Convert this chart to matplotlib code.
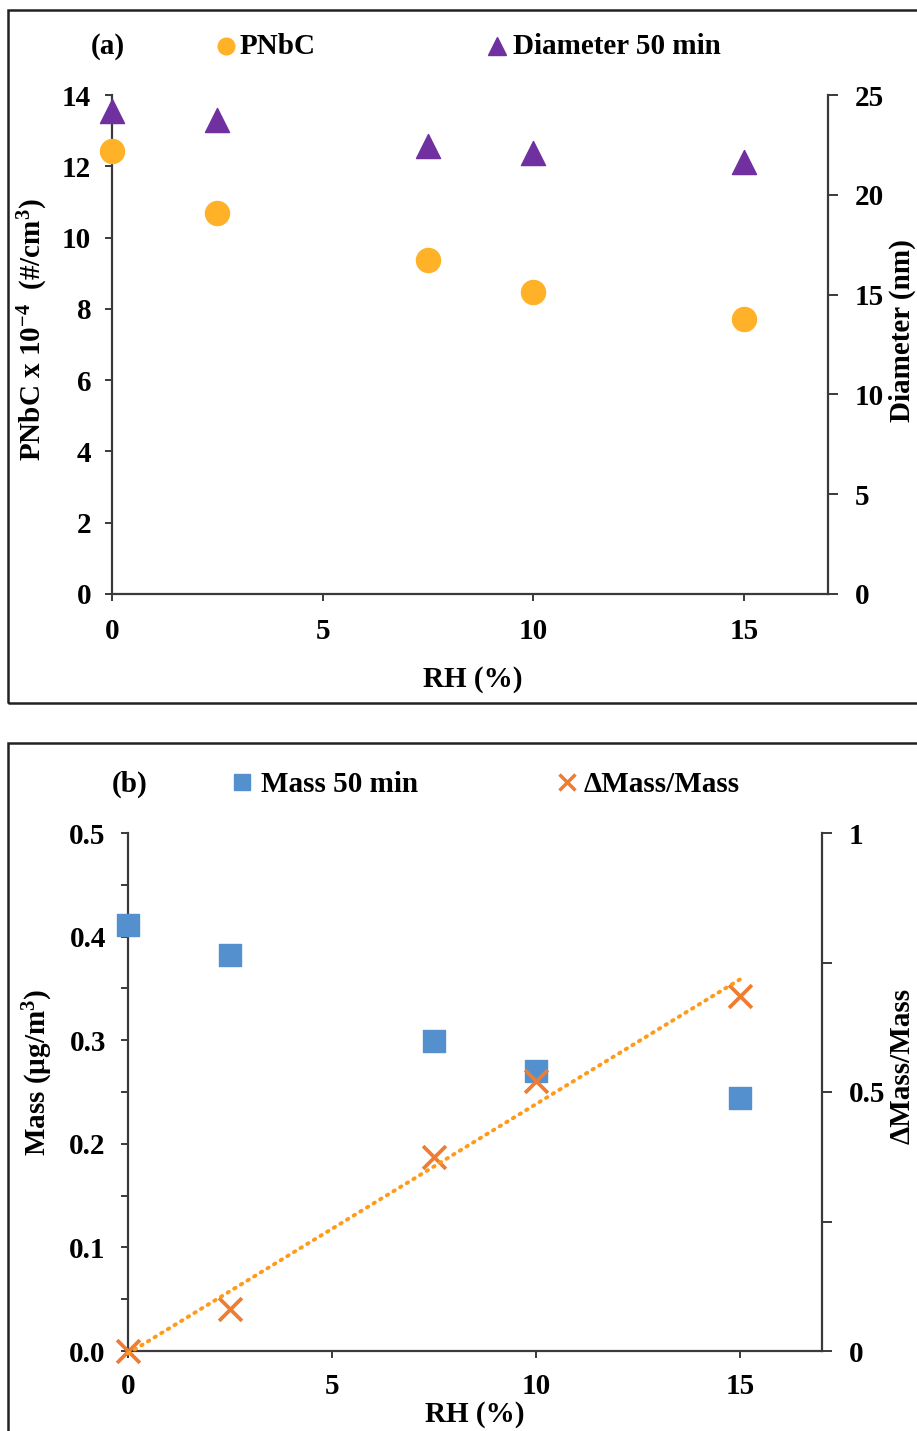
import numpy as np
import matplotlib
matplotlib.use("Agg")
import matplotlib.pyplot as plt
from matplotlib.patches import Rectangle
from matplotlib.lines import Line2D

# data
rh = [0, 2.5, 7.5, 10, 15]
pnbc = [12.43, 10.69, 9.37, 8.47, 7.72]          # x 10^-4 #/cm3
diameter = [24.2, 23.75, 22.45, 22.1, 21.64]     # nm
mass = [0.411, 0.382, 0.299, 0.270, 0.244]       # ug/m3
dmass = [0.0, 0.081, 0.375, 0.521, 0.685]        # dMass/Mass

C_PNBC = "#FFB127"
C_DIAM = "#7030A0"
C_MASS = "#5590CE"
C_DM = "#EE7D31"
C_TREND = "#FF9A1A"
SPINE = "#3a3a3a"

plt.rcParams["font.family"] = ["Liberation Serif", "DejaVu Serif"]
plt.rcParams["font.weight"] = "bold"
plt.rcParams["mathtext.fontset"] = "custom"
plt.rcParams["mathtext.rm"] = "Liberation Serif:bold"
plt.rcParams["mathtext.it"] = "Liberation Serif:bold"
plt.rcParams["mathtext.bf"] = "Liberation Serif:bold"

W, H = 917, 1431
FS = 21
fig = plt.figure(figsize=(W / 100, H / 100), dpi=100)


def fx(px):
    return px / W


def fy(py):
    return 1 - py / H


def style_axes(ax, ax2, ylen=5, rlen=7, pad_l=10, pad_r=12, pad_x=12):
    ax.spines["top"].set_visible(False)
    ax.spines["right"].set_visible(False)
    ax2.spines["top"].set_visible(False)
    ax2.spines["left"].set_visible(False)
    ax2.spines["bottom"].set_visible(False)
    for sp in ["left", "bottom"]:
        ax.spines[sp].set_color(SPINE)
        ax.spines[sp].set_linewidth(1.6)
    ax2.spines["right"].set_color(SPINE)
    ax2.spines["right"].set_linewidth(1.6)
    ax.tick_params(axis="y", which="both", direction="out", length=ylen, width=1.4,
                   color=SPINE, labelsize=FS, pad=pad_l)
    ax.tick_params(axis="x", direction="out", length=ylen, width=1.4,
                   color=SPINE, labelsize=FS, pad=pad_x)
    ax2.tick_params(axis="y", which="both", direction="out", length=rlen, width=1.4,
                    color=SPINE, labelsize=FS, pad=pad_r)
    ax.patch.set_visible(False)
    ax2.patch.set_visible(False)


# frames
fig.add_artist(Rectangle((fx(8), fy(703)), fx(940) - fx(8), fy(10) - fy(703),
                         transform=fig.transFigure, fill=False, lw=1.8, ec="#222222"))
fig.add_artist(Rectangle((fx(8), fy(1460)), fx(940) - fx(8), fy(743) - fy(1460),
                         transform=fig.transFigure, fill=False, lw=1.8, ec="#222222"))

# ---------------- panel (a)
ax = fig.add_axes([fx(112), fy(594), fx(828) - fx(112), fy(95) - fy(594)])
ax2 = ax.twinx()
ax.scatter(rh, pnbc, s=300, marker="o", color=C_PNBC, zorder=3, clip_on=False)
ax2.scatter(rh, diameter, s=300, marker="^", color=C_DIAM, zorder=3, clip_on=False)
ax.set_xlim(0, 17)
ax.set_ylim(0, 14)
ax2.set_ylim(0, 25)
ax.set_xticks([0, 5, 10, 15])
ax.set_yticks(np.arange(0, 15, 2))
ax2.set_yticks([0, 5, 10, 15, 20, 25])
style_axes(ax, ax2)

fig.text(fx(33), fy(330), "PNbC x 10$^{-4}$  (#/cm$^{3}$)", rotation=90,
         ha="center", va="center", fontsize=FS)
fig.text(fx(916), fy(331), "Diameter (nm)", rotation=90, ha="right", va="center", fontsize=FS)
fig.text(fx(473), fy(680), "RH (%)", ha="center", va="center", fontsize=FS)

fig.text(fx(108), fy(46), "(a)", ha="center", va="center", fontsize=FS)
fig.add_artist(Line2D([fx(226)], [fy(46)], transform=fig.transFigure, marker="o",
                      ms=12, color=C_PNBC, ls="none"))
fig.text(fx(240), fy(46), "PNbC", ha="left", va="center", fontsize=FS)
fig.add_artist(Line2D([fx(497)], [fy(46)], transform=fig.transFigure, marker="^",
                      ms=13, color=C_DIAM, ls="none"))
fig.text(fx(513), fy(46), "Diameter 50 min", ha="left", va="center", fontsize=FS)

# ---------------- panel (b)
bx = fig.add_axes([fx(128), fy(1351), fx(822) - fx(128), fy(833) - fy(1351)])
bx2 = bx.twinx()
bx.scatter(rh, mass, s=240, marker="s", color=C_MASS, zorder=3, clip_on=False)
bx2.scatter(rh, dmass, s=270, marker="x", color=C_DM, linewidths=2.7, zorder=3, clip_on=False)
k, b0 = np.polyfit(rh, dmass, 1)
xt = np.array([rh[0], rh[-1]])
bx2.plot(xt, k * xt + b0, color=C_TREND, lw=2.8, ls=(0, (0.4, 1.6)),
         dash_capstyle="round", zorder=4, clip_on=False)
bx.set_xlim(0, 17)
bx.set_ylim(0, 0.5)
bx2.set_ylim(0, 1)
bx.set_xticks([0, 5, 10, 15])
bx.set_yticks(np.arange(0, 0.51, 0.1))
bx.set_yticks(np.arange(0.05, 0.5, 0.1), minor=True)
bx.yaxis.set_major_formatter(matplotlib.ticker.FormatStrFormatter("%.1f"))
bx2.set_yticks([0, 0.5, 1])
bx2.set_yticks([0.25, 0.75], minor=True)
bx2.set_yticklabels(["0", "0.5", "1"])
style_axes(bx, bx2, pad_l=11, pad_r=12, pad_x=11)

fig.text(fx(38), fy(1072), "Mass (µg/m$^{3}$)", rotation=90, ha="center", va="center", fontsize=FS)
fig.text(fx(916), fy(1066), "ΔMass/Mass", rotation=90, ha="right", va="center", fontsize=FS)
fig.text(fx(475), fy(1414), "RH (%)", ha="center", va="center", fontsize=FS)

fig.text(fx(130), fy(784), "(b)", ha="center", va="center", fontsize=FS)
fig.add_artist(Line2D([fx(242)], [fy(782)], transform=fig.transFigure, marker="s",
                      ms=11, color=C_MASS, ls="none"))
fig.text(fx(261), fy(784), "Mass 50 min", ha="left", va="center", fontsize=FS)
fig.add_artist(Line2D([fx(567)], [fy(782)], transform=fig.transFigure, marker="x",
                      ms=12, mew=2.5, color=C_DM, ls="none"))
fig.text(fx(584), fy(784), "ΔMass/Mass", ha="left", va="center", fontsize=FS)

fig.savefig("out.png", dpi=100)
